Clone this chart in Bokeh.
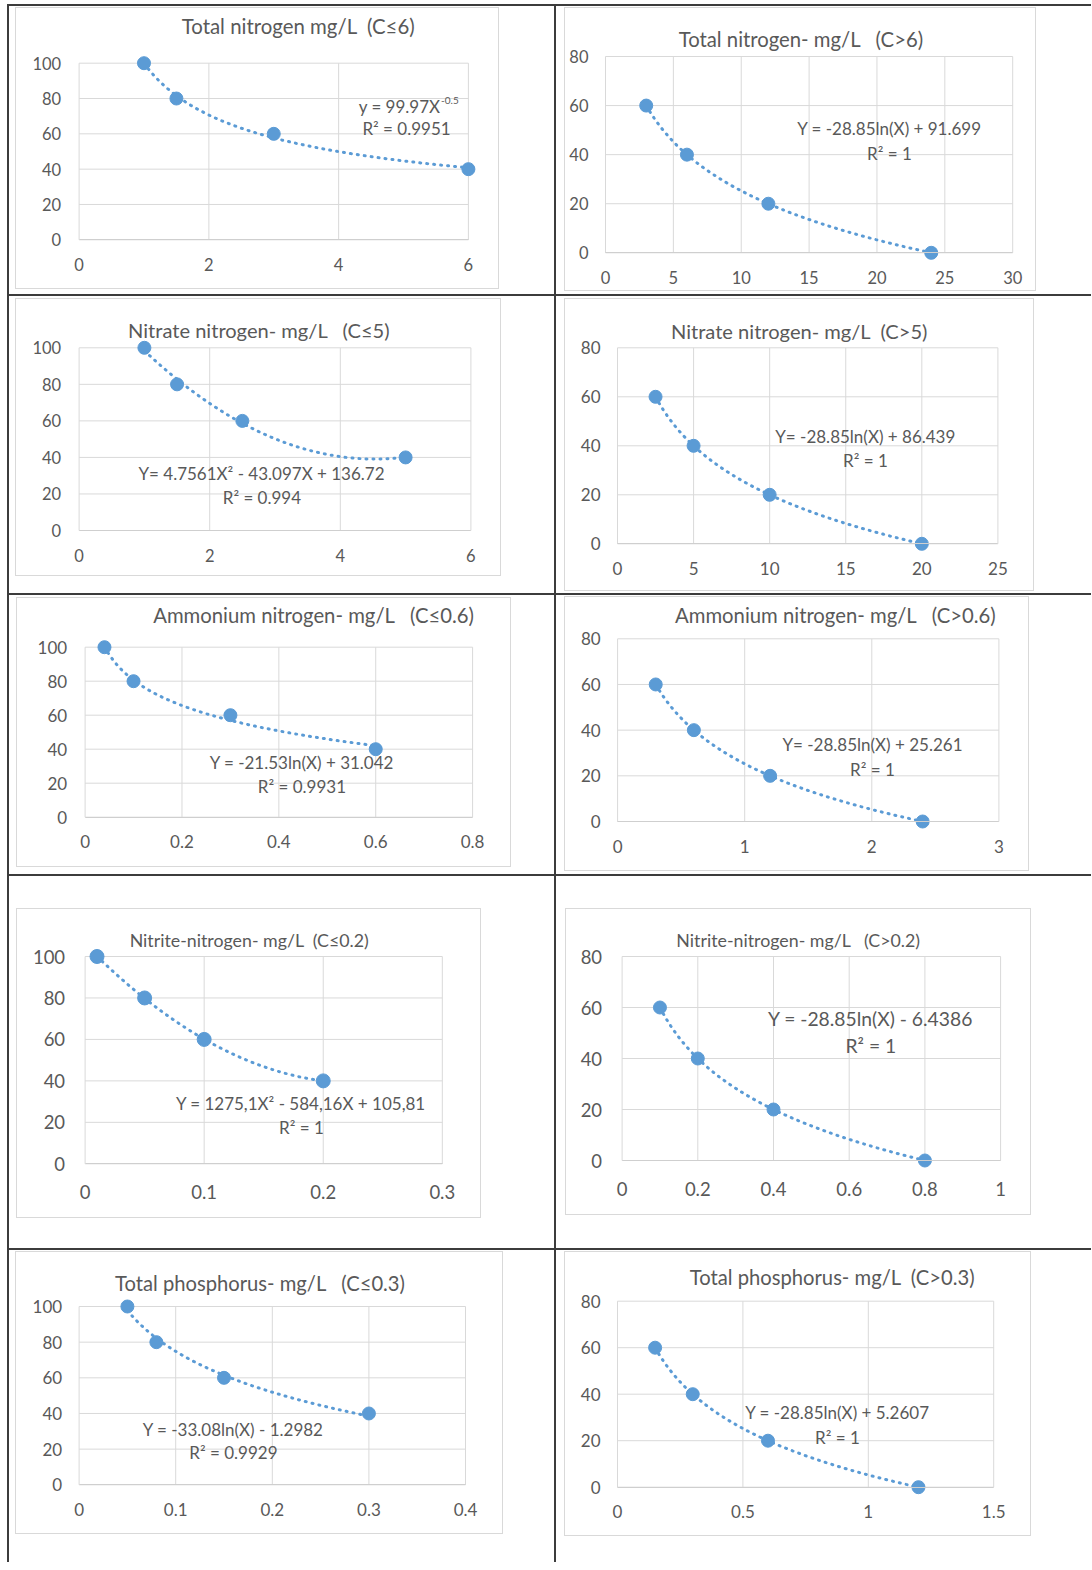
import re
import numpy as np
from bokeh.plotting import figure
from bokeh.models import Range1d, FixedTicker, NumeralTickFormatter, Label, Spacer
from bokeh.layouts import row, column
from bokeh.embed import file_html
from bokeh.resources import INLINE

# ---------------- data ----------------
tn_low_x = [1, 1.5, 3, 6]
tn_low_y = [100, 80, 60, 40]
tn_high_x = [3, 6, 12, 24]
tn_high_y = [60, 40, 20, 0]
no3_low_x = [1, 1.5, 2.5, 5]
no3_low_y = [100, 80, 60, 40]
no3_high_x = [2.5, 5, 10, 20]
no3_high_y = [60, 40, 20, 0]
nh4_low_x = [0.04, 0.1, 0.3, 0.6]
nh4_low_y = [100, 80, 60, 40]
nh4_high_x = [0.3, 0.6, 1.2, 2.4]
nh4_high_y = [60, 40, 20, 0]
no2_low_x = [0.01, 0.05, 0.1, 0.2]
no2_low_y = [100, 80, 60, 40]
no2_high_x = [0.1, 0.2, 0.4, 0.8]
no2_high_y = [60, 40, 20, 0]
tp_low_x = [0.05, 0.08, 0.15, 0.3]
tp_low_y = [100, 80, 60, 40]
tp_high_x = [0.15, 0.3, 0.6, 1.2]
tp_high_y = [60, 40, 20, 0]

tn_low_xticks = [0, 2, 4, 6]
tn_high_xticks = [0, 5, 10, 15, 20, 25, 30]
no3_low_xticks = [0, 2, 4, 6]
no3_high_xticks = [0, 5, 10, 15, 20, 25]
nh4_low_xticks = [0, 0.2, 0.4, 0.6, 0.8]
nh4_high_xticks = [0, 1, 2, 3]
no2_low_xticks = [0, 0.1, 0.2, 0.3]
no2_high_xticks = [0, 0.2, 0.4, 0.6, 0.8, 1]
tp_low_xticks = [0, 0.1, 0.2, 0.3, 0.4]
tp_high_xticks = [0, 0.5, 1, 1.5]
yticks_low = [0, 20, 40, 60, 80, 100]
yticks_high = [0, 20, 40, 60, 80]

titles = [
    "Total nitrogen mg/L  (C\u22646)",
    "Total nitrogen- mg/L   (C>6)",
    "Nitrate nitrogen- mg/L   (C\u22645)",
    "Nitrate nitrogen- mg/L  (C>5)",
    "Ammonium nitrogen- mg/L   (C\u22640.6)",
    "Ammonium nitrogen- mg/L   (C>0.6)",
    "Nitrite-nitrogen- mg/L  (C\u22640.2)",
    "Nitrite-nitrogen- mg/L   (C>0.2)",
    "Total phosphorus- mg/L   (C\u22640.3)",
    "Total phosphorus- mg/L  (C>0.3)",
]
equations = [
    "y = 99.97X",
    "Y = -28.85ln(X) + 91.699",
    "Y= 4.7561X\u00b2 - 43.097X + 136.72",
    "Y= -28.85ln(X) + 86.439",
    "Y = -21.53ln(X) + 31.042",
    "Y= -28.85ln(X) + 25.261",
    "Y = 1275,1X\u00b2 - 584,16X + 105,81",
    "Y = -28.85ln(X) - 6.4386",
    "Y = -33.08ln(X) - 1.2982",
    "Y = -28.85ln(X) + 5.2607",
]
eq_exponent = "-0.5"
r_squared = ["R\u00b2 = 0.9951", "R\u00b2 = 1", "R\u00b2 = 0.994", "R\u00b2 = 1", "R\u00b2 = 0.9931",
             "R\u00b2 = 1", "R\u00b2 = 1", "R\u00b2 = 1", "R\u00b2 = 0.9929", "R\u00b2 = 1"]
fit_types = ["power", "log", "poly2", "log", "log", "log", "poly2", "log", "log", "log"]

series = [
    (tn_low_x, tn_low_y, tn_low_xticks, yticks_low),
    (tn_high_x, tn_high_y, tn_high_xticks, yticks_high),
    (no3_low_x, no3_low_y, no3_low_xticks, yticks_low),
    (no3_high_x, no3_high_y, no3_high_xticks, yticks_high),
    (nh4_low_x, nh4_low_y, nh4_low_xticks, yticks_low),
    (nh4_high_x, nh4_high_y, nh4_high_xticks, yticks_high),
    (no2_low_x, no2_low_y, no2_low_xticks, yticks_low),
    (no2_high_x, no2_high_y, no2_high_xticks, yticks_high),
    (tp_low_x, tp_low_y, tp_low_xticks, yticks_low),
    (tp_high_x, tp_high_y, tp_high_xticks, yticks_high),
]

# ---------------- styling / geometry (page pixels) ----------------
FONT = "Lato"
TXT = "#595959"
BLUE = "#5B9BD5"
GRID = "#d9d9d9"
RULE = "#3c3c3c"

GEO = [
    dict(box=(15, 7, 500, 290), frame=(78.6, 467.9, 62.7, 239.3), title=(298, 25, 20.4), eq=(440, 106, 17), r2=(406, 128), tick=16.5, yso=18, xso=18, ms=13),
    dict(box=(566, 7, 1039, 292), frame=(607, 1014.2, 56, 252.3), title=(802.7, 38, 20.3), eq=(891, 128, 17), r2=(891, 153), tick=16.5, yso=17, xso=18, ms=13),
    dict(box=(15, 298, 502, 577), frame=(78.6, 470.4, 347.3, 530), title=(258.6, 329, 20.1), eq=(261, 473.3, 17), r2=(261.4, 497.3), tick=16.5, yso=18, xso=18, ms=13),
    dict(box=(566, 298, 1037, 592), frame=(619, 999.4, 347.3, 543.3), title=(801, 330, 20.1), eq=(866.8, 436, 17), r2=(867, 460), tick=17, yso=17, xso=18, ms=13),
    dict(box=(16, 597, 512, 868), frame=(84.6, 472.1, 646.7, 816.7), title=(313.4, 614, 20.3), eq=(301.4, 761.7, 17), r2=(301.4, 786), tick=17, yso=18, xso=18, ms=13),
    dict(box=(566, 596, 1032, 872), frame=(619.1, 1000.4, 638.3, 821), title=(837.2, 614, 20.3), eq=(874, 744, 17), r2=(874, 769), tick=17, yso=17, xso=18, ms=13),
    dict(box=(16, 908, 482, 1219), frame=(84.6, 441.8, 956, 1163.3), title=(249, 939.3, 17.8), eq=(300.4, 1103.3, 17), r2=(301, 1127.3), tick=18.5, yso=20, xso=21, ms=14),
    dict(box=(567, 908, 1034, 1216), frame=(623.6, 1002.1, 956, 1160), title=(800, 939.3, 17.8), eq=(872, 1018.3, 19.3), r2=(872.3, 1045), tick=18.5, yso=20, xso=21, ms=13),
    dict(box=(15, 1251, 504, 1535), frame=(78.6, 465, 1306, 1484.3), title=(259.8, 1282.7, 20.2), eq=(232.7, 1428.7, 17), r2=(232.9, 1451.7), tick=17, yso=17, xso=18, ms=13),
    dict(box=(566, 1251, 1034, 1537), frame=(619, 995.2, 1300.7, 1486.7), title=(834, 1276, 20.2), eq=(839, 1412.3, 17), r2=(839, 1436.7), tick=17, yso=17, xso=18, ms=13),
]

ROOT_X, ROOT_Y = 7, 4
ROW_Y = [6, 296, 595, 876, 1250]
ROW_H = [288, 297, 279, 372, 312]
COL_X = [9, 558]
COL_W = [547, 533]


def keep_spaces(s):
    # keep runs of spaces visible in SVG text
    return re.sub(r" {2,}", lambda m: " " + "\u00a0" * (len(m.group()) - 1), s)


def make_chart(i, cell_x0, cell_y0, cell_w):
    xs, ys, xticks, yticks = series[i]
    g = GEO[i]
    L, T, R, B = g["box"]
    fx0, fx1, fyt, fyb = g["frame"]
    W = R - L - 1
    H = B - T - 1
    cx0, cy0 = L + 1, T + 1
    xmax = xticks[-1]
    ymax = yticks[-1]
    sx = (fx1 - fx0) / xmax
    sy = (fyb - fyt) / ymax
    x_start = (cx0 - fx0) / sx
    x_end = (cx0 + W - fx0) / sx
    y_start = (fyb - (cy0 + H)) / sy
    y_end = (fyb - cy0) / sy
    ml = L - cell_x0
    mr = max(0, cell_w - ml - (W + 2))
    p = figure(width=W, height=H, x_range=Range1d(x_start, x_end), y_range=Range1d(y_start, y_end),
               output_backend="svg", toolbar_location=None, tools="",
               min_border_left=0, min_border_right=0, min_border_top=0, min_border_bottom=0,
               background_fill_color="white", border_fill_color="white",
               outline_line_color=None,
               styles={"border": "1px solid #d9d9d9"},
               margin=(T - cell_y0, mr, 0, ml))
    p.xgrid.visible = False
    p.ygrid.visible = False
    xt = FixedTicker(ticks=xticks)
    yt = FixedTicker(ticks=yticks)
    p.xaxis.ticker = xt
    p.yaxis.ticker = yt
    for ax in (p.xaxis[0], p.yaxis[0]):
        ax.fixed_location = 0
        ax.major_tick_line_color = None
        ax.minor_tick_line_color = None
        ax.major_tick_out = 0
        ax.major_tick_in = 0
        ax.major_label_text_font = FONT
        ax.major_label_text_color = TXT
        ax.major_label_text_font_size = f"{g['tick']}px"
        ax.formatter = NumeralTickFormatter(format="0.[0]")
    p.xaxis.bounds = (0, xmax)
    p.yaxis.bounds = (0, ymax)
    p.xaxis.axis_line_color = "#cfcfcf"
    p.yaxis.axis_line_color = None
    p.xaxis.major_label_standoff = g["xso"]
    p.yaxis.major_label_standoff = g["yso"]

    # gridlines (within the plot area only)
    p.segment(x0=xticks, y0=[0] * len(xticks), x1=xticks, y1=[ymax] * len(xticks),
              line_color=GRID, line_width=1)
    p.segment(x0=[0] * len(yticks), y0=yticks, x1=[xmax] * len(yticks), y1=yticks,
              line_color=GRID, line_width=1)

    xa = np.array(xs, float)
    ya = np.array(ys, float)
    xf = np.linspace(xa.min(), xa.max(), 300)
    if fit_types[i] == "power":
        b, a = np.polyfit(np.log(xa), np.log(ya), 1)
        yf = np.exp(a) * xf ** b
    elif fit_types[i] == "log":
        b, a = np.polyfit(np.log(xa), ya, 1)
        yf = b * np.log(xf) + a
    else:
        c = np.polyfit(xa, ya, 2)
        yf = np.polyval(c, xf)
    p.line(xf, yf, line_color=BLUE, line_width=3, line_dash="1 6", line_cap="round")
    p.scatter(xs, ys, size=g["ms"], fill_color=BLUE, line_color=BLUE)

    def dx(px):
        return (px - fx0) / sx

    def dy(py):
        return (fyb - py) / sy

    tx, ty, ts = g["title"]
    p.add_layout(Label(x=dx(tx), y=dy(ty), text=keep_spaces(titles[i]), text_align="center", text_baseline="middle",
                       text_font=FONT, text_font_size=f"{ts}px", text_color=TXT))
    ex, ey, es = g["eq"]
    if i == 0:
        p.add_layout(Label(x=dx(ex), y=dy(ey), text=equations[i], text_align="right", text_baseline="middle",
                           text_font=FONT, text_font_size=f"{es}px", text_color=TXT))
        p.add_layout(Label(x=dx(ex + 0.5), y=dy(ey - 6), text=eq_exponent, text_align="left", text_baseline="middle",
                           text_font=FONT, text_font_size="10px", text_color=TXT))
    else:
        p.add_layout(Label(x=dx(ex), y=dy(ey), text=equations[i], text_align="center", text_baseline="middle",
                           text_font=FONT, text_font_size=f"{es}px", text_color=TXT))
    rx, ry = g["r2"]
    p.add_layout(Label(x=dx(rx), y=dy(ry), text=r_squared[i], text_align="center", text_baseline="middle",
                       text_font=FONT, text_font_size=f"{es}px", text_color=TXT))
    return p


def vline(h):
    return Spacer(width=2, height=h, margin=0, styles={"background-color": RULE})


def hline():
    return Spacer(width=2 + COL_W[0] + 2 + COL_W[1], height=2, margin=0, styles={"background-color": RULE})


items = [hline()]
for r in range(5):
    left = make_chart(2 * r, COL_X[0], ROW_Y[r], COL_W[0])
    right = make_chart(2 * r + 1, COL_X[1], ROW_Y[r], COL_W[1])
    items.append(row(vline(ROW_H[r]), left, vline(ROW_H[r]), right))
    if r < 4:
        items.append(hline())

root = column(*items, margin=(ROOT_Y, 0, 0, ROOT_X))

open("out.html", "w").write(file_html(root, INLINE))
